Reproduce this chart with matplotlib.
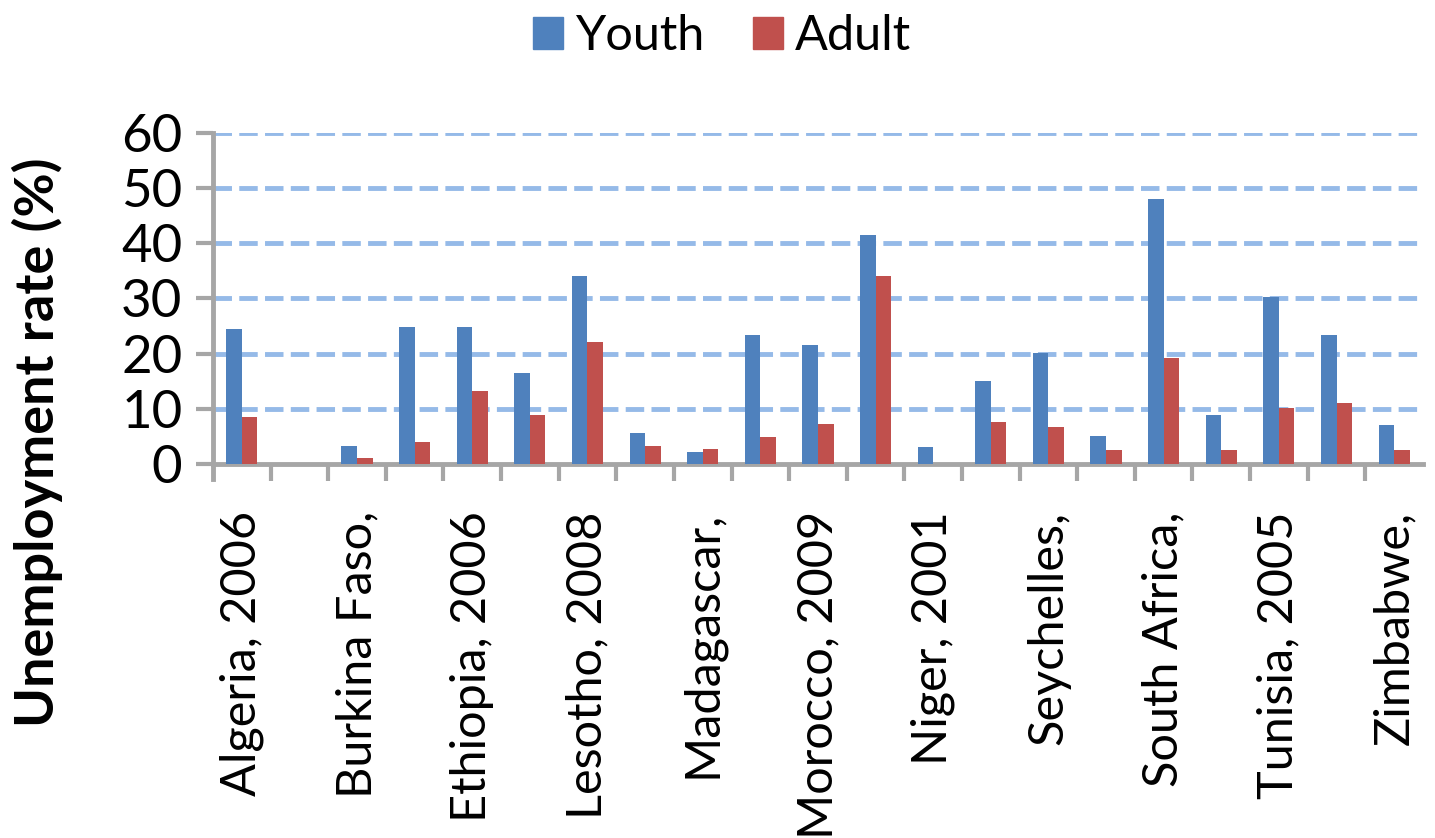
import numpy as np
import matplotlib
matplotlib.use("Agg")
import matplotlib.pyplot as plt
from matplotlib.patches import Patch

plt.rcParams['font.family'] = ['Lato', 'DejaVu Sans']

# one value per country/year; labels only show on every other category
youth = [24.4, 0, 3.3, 24.8, 24.8, 16.5, 34.0, 5.7, 2.2, 23.3, 21.6,
         41.6, 3.0, 15.0, 20.1, 5.0, 48.1, 8.9, 30.2, 23.3, 7.1]
adult = [8.6, 0, 1.1, 3.9, 13.3, 8.8, 22.1, 3.2, 2.7, 4.9, 7.3,
         34.1, 0, 7.7, 6.7, 2.6, 19.3, 2.6, 10.2, 11.1, 2.6]
tick_labels = ['Algeria, 2006', 'Burkina Faso,', 'Ethiopia, 2006', 'Lesotho, 2008',
               'Madagascar,', 'Morocco, 2009', 'Niger, 2001', 'Seychelles,',
               'South Africa,', 'Tunisia, 2005', 'Zimbabwe,']
y_ticks = [0, 10, 20, 30, 40, 50, 60]

blue = '#4F81BD'
red = '#C0504D'
axis_gray = '#A6A6A6'

fig = plt.figure(figsize=(14.35, 8.38), dpi=100)
ax = fig.add_axes([0.1484, 0.4463, 0.8432, 0.395])

x = np.arange(len(youth))
w = 0.27
ax.bar(x - w / 2, youth, w, color=blue, zorder=3)
ax.bar(x + w / 2, adult, w, color=red, zorder=3)

ax.set_xlim(-0.5, len(youth) - 0.5)
ax.set_ylim(0, 60)
ax.set_yticks(y_ticks)
ax.set_yticklabels([str(v) for v in y_ticks], fontsize=38)

# category boundary ticks, labels at every other category
ax.set_xticks(np.arange(0.5, len(youth) - 0.5, 1))
ax.set_xticklabels([])
ax.set_xticks(x[::2], minor=True)
ax.set_xticklabels(tick_labels, minor=True, rotation=90, fontsize=35, va='top')
ax.tick_params(axis='x', which='minor', length=0, pad=34)
ax.tick_params(axis='x', which='major', length=12, width=3, color=axis_gray)
ax.tick_params(axis='y', length=12, width=3, color=axis_gray, pad=10)

for v in y_ticks[1:]:
    ax.axhline(v, color='#95BAE8', lw=3.5, ls=(0, (3.8, 1.5)), zorder=1)

for s in ['top', 'right']:
    ax.spines[s].set_visible(False)
ax.spines['left'].set_color(axis_gray)
ax.spines['left'].set_linewidth(3.5)
ax.spines['left'].set_bounds(-2.8, 60)
ax.spines['bottom'].set_color(axis_gray)
ax.spines['bottom'].set_linewidth(3.5)

fig.text(0.026, 0.472, 'Unemployment rate (%)', rotation=90, fontsize=39,
         fontweight='bold', ha='center', va='center')

handles = [Patch(color=blue, label='Youth'), Patch(color=red, label='Adult')]
fig.legend(handles=handles, loc='center', bbox_to_anchor=(0.503, 0.957), ncol=2,
           frameon=False, fontsize=35, handlelength=0.62, handleheight=0.62,
           handletextpad=0.25, columnspacing=1.0)

fig.savefig('out.png', dpi=100)
